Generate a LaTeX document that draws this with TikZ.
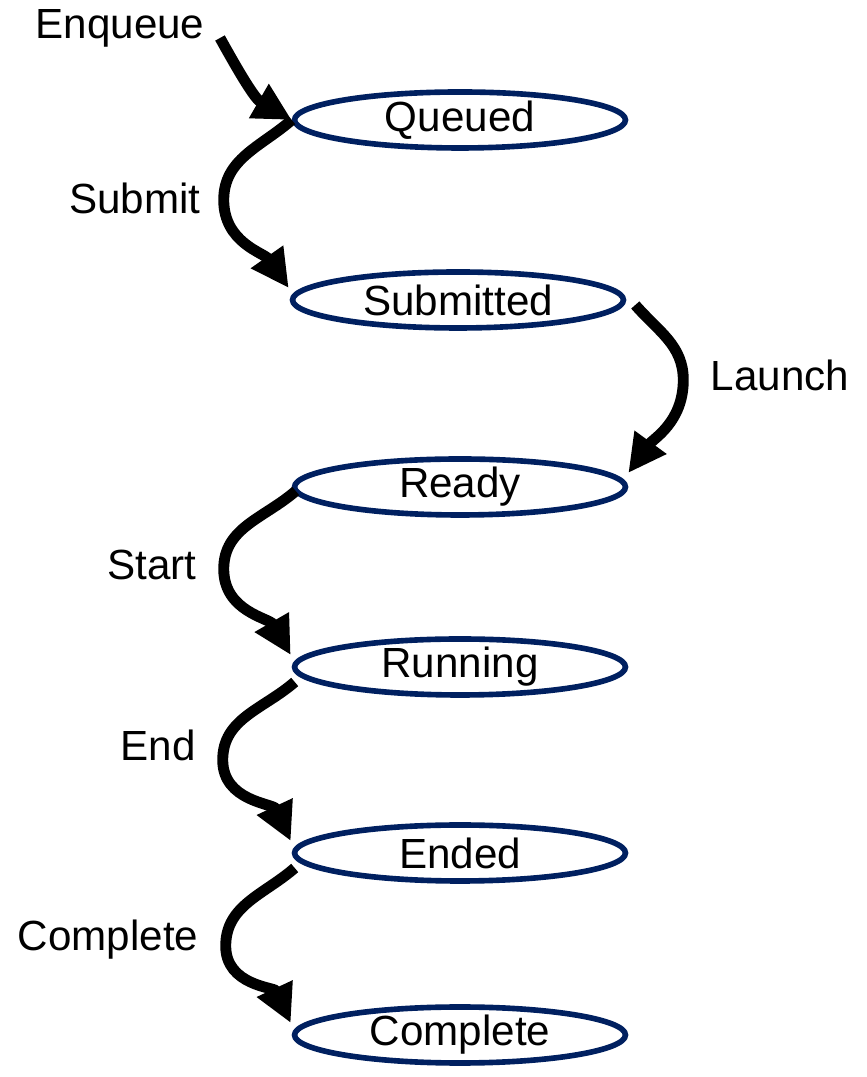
\documentclass[tikz,border=0pt]{standalone}
\usepackage{fontspec}
\setmainfont{Liberation Sans}
\usetikzlibrary{arrows.meta,shapes.geometric,calc}

\definecolor{statenavy}{RGB}{0,32,96}

\begin{document}
\begin{tikzpicture}[x=0.02cm,y=0.02cm,
    state/.style={ellipse,draw=statenavy,line width=3.2pt,minimum width=6.62cm,
        minimum height=1.12cm,inner sep=0pt,font=\fontsize{24}{28}\selectfont},
    label/.style={font=\fontsize{24}{28}\selectfont},
    trans/.style={line width=6.2pt,-{Triangle[length=0.76cm,width=0.74cm]}}]
\useasboundingbox (0,0) rectangle (866,1077);

% states
\node[state] (queued)    at (460,957) {Queued};
\node[state] (submitted) at (458,777) {Submitted};
\node[state] (ready)     at (460,590) {Ready};
\node[state] (running)   at (460,410) {Running};
\node[state] (ended)     at (460,224) {Ended};
\node[state] (complete)  at (460,42)  {Complete};

% transition labels
\node[label] (enqueue)   at (120,1049) {Enqueue};
\node[label] (submit)    at (135,879)  {Submit};
\node[label] (launch)    at (780,702)  {Launch};
\node[label] (start)     at (152,512)  {Start};
\node[label] (end)       at (158,332)  {End};
\node[label] (completel) at (108,137)  {Complete};

\coordinate (enq) at (220,1039);

% transitions
\draw[trans] (enq) to[out=-61,in=150] (queued.west);
\draw[trans] (queued.west) to[out=221,in=90] ++(-68,-80)
    to[out=-90,in=125] ($(submitted.west)+(-1,12)$);
\draw[trans] ($(submitted.east)+(9,-5)$) to[out=-49,in=90] ++(48,-75)
    to[out=-90,in=54] ($(ready.east)+(0,14)$);
\draw[trans] ($(ready.west)+(4,-4)$) to[out=221,in=90] ++(-72,-78)
    to[out=-90,in=120] ($(running.west)+(-1,12)$);
\draw[trans] ($(running.west)+(3,-15)$) to[out=221,in=90] ++(-72,-78)
    to[out=-90,in=115] ($(ended.west)+(-1,12)$);
\draw[trans] ($(ended.west)+(3,-15)$) to[out=221,in=90] ++(-69,-78)
    to[out=-90,in=115] ($(complete.west)+(-1,12)$);
\end{tikzpicture}
\end{document}
